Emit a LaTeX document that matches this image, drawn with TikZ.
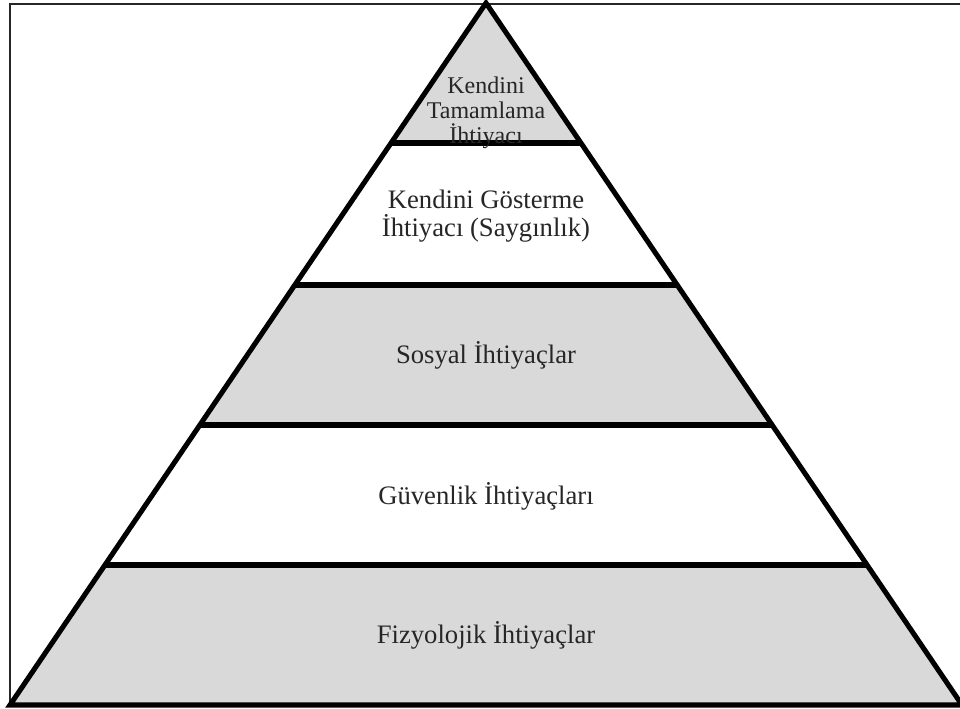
\documentclass[tikz,border=0pt]{standalone}
\usepackage{fontspec}
\setmainfont{Liberation Serif}
\usetikzlibrary{calc}
\definecolor{bandgray}{HTML}{D9D9D9}
\definecolor{ink}{HTML}{262626}
\begin{document}
\begin{tikzpicture}[x=0.75pt,y=-0.75pt,
  frameline/.style={draw=black!85,line width=1.5pt},
  edgeline/.style={draw=black,line width=3.8pt,line join=miter},
  grayband/.style={fill=bandgray},
  lbl/.style={text=ink,inner sep=0pt,align=center,font=\fontsize{20}{21}\selectfont},
  toplbl/.style={text=ink,inner sep=0pt,align=center,font=\fontsize{18}{18.6}\selectfont}]
\useasboundingbox (0,0) rectangle (960,708);
\fill[white] (0,0) rectangle (960,708);
\coordinate (A) at (486,3);
\coordinate (L) at (10,705);
\coordinate (R) at (962,705);
\coordinate (l1) at ($(A)!0.19943!(L)$);
\coordinate (r1) at ($(A)!0.19943!(R)$);
\coordinate (l2) at ($(A)!0.40171!(L)$);
\coordinate (r2) at ($(A)!0.40171!(R)$);
\coordinate (l3) at ($(A)!0.60114!(L)$);
\coordinate (r3) at ($(A)!0.60114!(R)$);
\coordinate (l4) at ($(A)!0.80057!(L)$);
\coordinate (r4) at ($(A)!0.80057!(R)$);
% frame
\draw[frameline] (966,4) -- (10,4) -- (10,707);
% bands
\fill[grayband] (A) -- (l1) -- (r1) -- cycle;
\fill[grayband] (l2) -- (l3) -- (r3) -- (r2) -- cycle;
\fill[grayband] (l4) -- (L) -- (R) -- (r4) -- cycle;
% outline and dividers
\draw[edgeline] (A) -- (L) -- (R) -- cycle;
\draw[edgeline] (l1) -- (r1);
\draw[edgeline] (l2) -- (r2);
\draw[edgeline] (l3) -- (r3);
\draw[edgeline] (l4) -- (r4);
% labels
\node[toplbl] (t1) at (486,113) {Kendini\\Tamamlama\\İhtiyacı};
\node[lbl] (t2) at (486,216) {Kendini Gösterme\\İhtiyacı (Saygınlık)};
\node[lbl,anchor=base] (t3) at (486,363) {Sosyal İhtiyaçlar};
\node[lbl,anchor=base] (t4) at (486,504) {Güvenlik İhtiyaçları};
\node[lbl,anchor=base] (t5) at (486,643) {Fizyolojik İhtiyaçlar};
\end{tikzpicture}
\end{document}
